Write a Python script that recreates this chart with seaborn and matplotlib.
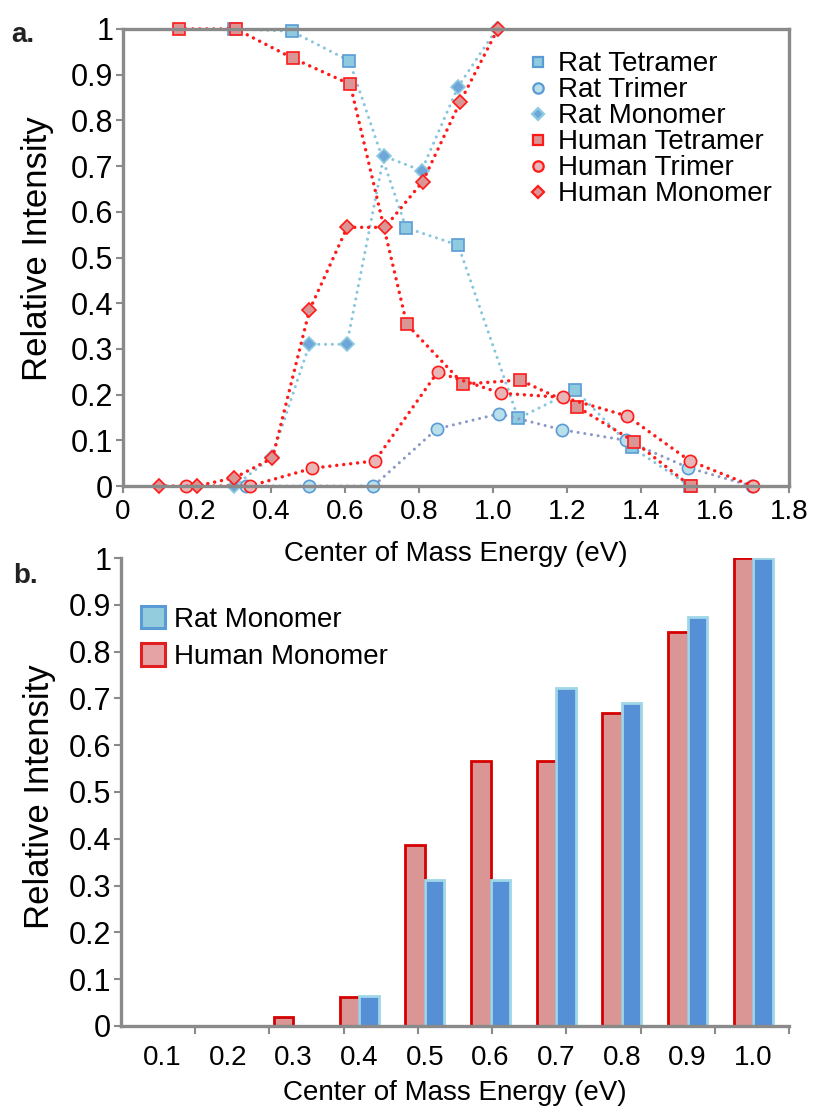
import numpy as np
import pandas as pd
import matplotlib
matplotlib.use("Agg")
import matplotlib.pyplot as plt
import seaborn as sns
from matplotlib.lines import Line2D
from matplotlib.patches import Patch
from matplotlib.ticker import FixedLocator, FuncFormatter

# ---------------- data: panel a ----------------
rat_tet_x = [0.300, 0.456, 0.612, 0.765, 0.906, 1.068, 1.222, 1.375, 1.532]
rat_tet_y = [1.000, 0.995, 0.930, 0.565, 0.527, 0.148, 0.210, 0.085, 0.000]
rat_tri_x = [0.333, 0.504, 0.677, 0.848, 1.016, 1.187, 1.359, 1.528, 1.699]
rat_tri_y = [0.000, 0.000, 0.000, 0.125, 0.158, 0.123, 0.100, 0.040, 0.000]
rat_mono_x = [0.301, 0.402, 0.504, 0.605, 0.705, 0.807, 0.906, 1.010]
rat_mono_y = [0.000, 0.063, 0.310, 0.310, 0.722, 0.690, 0.874, 1.000]
hum_tet_x = [0.151, 0.305, 0.459, 0.614, 0.767, 0.920, 1.073, 1.226, 1.382, 1.534]
hum_tet_y = [1.000, 1.000, 0.936, 0.879, 0.354, 0.223, 0.232, 0.174, 0.097, 0.000]
hum_tri_x = [0.170, 0.343, 0.512, 0.681, 0.850, 1.022, 1.190, 1.363, 1.532, 1.702]
hum_tri_y = [0.000, 0.000, 0.039, 0.055, 0.249, 0.203, 0.194, 0.153, 0.055, 0.000]
hum_mono_x = [0.098, 0.199, 0.301, 0.404, 0.504, 0.606, 0.708, 0.810, 0.911, 1.013]
hum_mono_y = [0.000, 0.000, 0.018, 0.061, 0.385, 0.566, 0.566, 0.666, 0.840, 1.000]

# ---------------- data: panel b ----------------
energies = ["0.1", "0.2", "0.3", "0.4", "0.5", "0.6", "0.7", "0.8", "0.9", "1.0"]
rat_bar = [0.0, 0.0, 0.0, 0.064, 0.311, 0.312, 0.723, 0.691, 0.875, 1.0]
human_bar = [0.0, 0.0, 0.020, 0.063, 0.387, 0.567, 0.567, 0.668, 0.841, 1.0]

sns.set_style("white")
plt.rcParams["font.family"] = ["Liberation Sans", "DejaVu Sans"]
plt.rcParams["text.color"] = "black"
plt.rcParams["axes.labelcolor"] = "black"
plt.rcParams["xtick.labelcolor"] = "black"
plt.rcParams["ytick.labelcolor"] = "black"

GRAY = "#8a8a8a"
RED = "#ff1a1a"
fig = plt.figure(figsize=(8.22, 11.14), dpi=100)
ax1 = fig.add_axes([0.1496, 0.5637, 0.8103, 0.4103])
ax2 = fig.add_axes([0.1472, 0.0790, 0.8127, 0.4201])
ax2.patch.set_visible(False)
ax1.set_zorder(2)

series = [
    (rat_tet_x, rat_tet_y, "Rat Tetramer", "s", "#8fcbe0", "#5b9bd5", "#86c5dc", 2.2, (0, (0.01, 2.2))),
    (rat_tri_x, rat_tri_y, "Rat Trimer", "o", "#b9dfea", "#5b9bd5", "#8a98c8", 2.2, (0, (0.01, 2.2))),
    (rat_mono_x, rat_mono_y, "Rat Monomer", "D", "#6fa6da", "#8fcbe0", "#86c5dc", 2.2, (0, (0.01, 2.2))),
    (hum_tet_x, hum_tet_y, "Human Tetramer", "s", "#d99694", RED, RED, 2.5, (0, (0.01, 2.0))),
    (hum_tri_x, hum_tri_y, "Human Trimer", "o", "#e8b6b6", RED, RED, 2.5, (0, (0.01, 2.0))),
    (hum_mono_x, hum_mono_y, "Human Monomer", "D", "#d99694", RED, RED, 2.5, (0, (0.01, 2.0))),
]
handles = []
for xs, ys, lab, mk, fc, ec, lc, lw, ls in series:
    ms = 8.8 if mk != "D" else 7.6
    sns.lineplot(x=xs, y=ys, ax=ax1, color=lc, linewidth=lw, linestyle=ls,
                 dash_capstyle="round", marker=mk, markersize=ms,
                 markerfacecolor=fc, markeredgecolor=ec, markeredgewidth=1.2,
                 estimator=None, sort=False, clip_on=False)
    handles.append(Line2D([], [], linestyle="none", marker=mk, markersize=ms * 0.85,
                          markerfacecolor=fc, markeredgecolor=ec,
                          markeredgewidth=1.6, label=lab))
for ln in ax1.lines:
    ln.set_clip_on(False)

ax1.set_xlim(0, 1.8)
ax1.set_ylim(0, 1)
ax1.xaxis.set_major_locator(FixedLocator(np.round(np.arange(0, 1.81, 0.2), 1)))
ax1.yaxis.set_major_locator(FixedLocator(np.round(np.arange(0, 1.01, 0.1), 1)))
ax1.xaxis.set_major_formatter(FuncFormatter(lambda v, _: "0" if abs(v) < 1e-9 else f"{v:.1f}"))
ax1.yaxis.set_major_formatter(FuncFormatter(
    lambda v, _: "0" if abs(v) < 1e-9 else ("1" if abs(v - 1) < 1e-9 else f"{v:.1f}")))
for s in ax1.spines.values():
    s.set_visible(True)
    s.set_color(GRAY)
    s.set_linewidth(2.4)
ax1.tick_params(axis="x", bottom=True, length=5, width=1.5, color=GRAY,
                labelcolor="black", labelsize=20, pad=4)
ax1.tick_params(axis="y", left=True, length=5, width=1.5, color=GRAY,
                labelcolor="black", labelsize=22, pad=2)
ax1.set_xlabel("Center of Mass Energy (eV)", fontsize=20, labelpad=12, color="black")
ax1.set_ylabel("Relative Intensity", fontsize=25, color="black")
ax1.yaxis.set_label_coords(-0.104, 0.52)
leg1 = ax1.legend(handles=handles, loc="upper left", bbox_to_anchor=(0.607, 0.951),
                  frameon=False, fontsize=20, handlelength=0.8, handletextpad=0.3,
                  labelspacing=0.0, borderpad=0, borderaxespad=0)
for t in leg1.get_texts():
    t.set_color("black")

# ---------------- panel b ----------------
df = pd.DataFrame({
    "Energy": energies * 2,
    "Intensity": human_bar + rat_bar,
    "Species": ["Human Monomer"] * len(energies) + ["Rat Monomer"] * len(energies),
})
sns.barplot(data=df, x="Energy", y="Intensity", hue="Species",
            hue_order=["Human Monomer", "Rat Monomer"],
            palette={"Human Monomer": "#d99694", "Rat Monomer": "#5590d6"},
            width=0.594, errorbar=None, ax=ax2, legend=False, saturation=1)
edge_cols = ["#d40000", "#9fd6e8"]
for cont, ec in zip(ax2.containers, edge_cols):
    for bar in cont:
        if bar.get_height() > 0:
            bar.set_edgecolor(ec)
            bar.set_linewidth(2.0)
        else:
            bar.set_linewidth(0)

ax2.set_ylim(0, 1)
ax2.set_xlim(-0.624, 9.543)
for k in ["top", "right"]:
    ax2.spines[k].set_visible(False)
for k in ["left", "bottom"]:
    ax2.spines[k].set_color(GRAY)
    ax2.spines[k].set_linewidth(2.4)
ax2.yaxis.set_major_locator(FixedLocator(np.round(np.arange(0, 1.01, 0.1), 1)))
ax2.yaxis.set_major_formatter(FuncFormatter(
    lambda v, _: "0" if abs(v) < 1e-9 else ("1" if abs(v - 1) < 1e-9 else f"{v:.1f}")))
xl = ax2.get_xlim()
ax2.xaxis.set_minor_locator(FixedLocator(np.linspace(xl[0], xl[1], 10)[1:]))
ax2.tick_params(axis="x", which="major", bottom=False, length=0, labelsize=20, pad=14,
                labelcolor="black")
ax2.tick_params(axis="x", which="minor", bottom=True, length=6, width=1.5, color=GRAY)
ax2.tick_params(axis="y", left=True, length=5, width=1.5, color=GRAY,
                labelcolor="black", labelsize=22, pad=2)
ax2.set_xlabel("Center of Mass Energy (eV)", fontsize=20, labelpad=6, color="black")
ax2.set_ylabel("Relative Intensity", fontsize=25, color="black")
ax2.yaxis.set_label_coords(-0.098, 0.49)

leg_handles = [
    Patch(facecolor="#93cddd", edgecolor="#5b9bd5", linewidth=2.2, label="Rat Monomer"),
    Patch(facecolor="#e6a3a6", edgecolor="#e02020", linewidth=2.2, label="Human Monomer"),
]
leg2 = ax2.legend(handles=leg_handles, loc="upper left", bbox_to_anchor=(0.03, 0.897),
                  frameon=False, fontsize=20, handlelength=0.85, handleheight=0.85,
                  handletextpad=0.35, labelspacing=0.38, borderpad=0, borderaxespad=0)
for t in leg2.get_texts():
    t.set_color("black")

fig.text(0.014, 0.969, "a.", fontsize=20, fontweight="bold", va="center", color="#222222")
fig.text(0.016, 0.483, "b.", fontsize=20, fontweight="bold", va="center", color="#222222")

fig.savefig("out.png", dpi=100)
